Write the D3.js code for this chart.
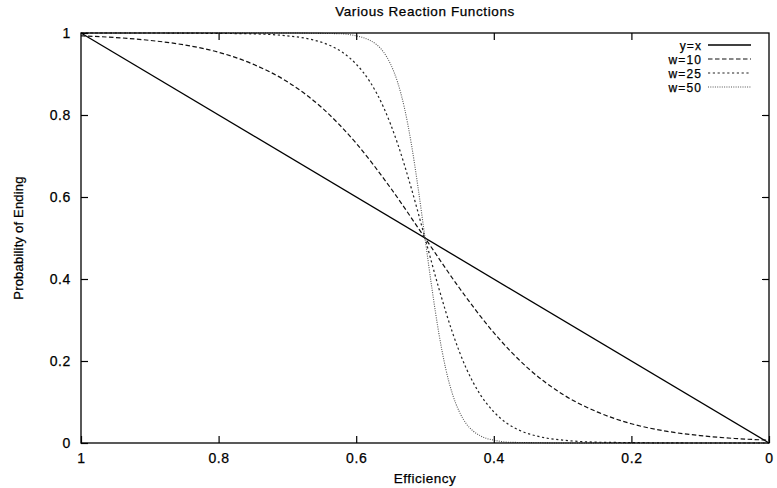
<!DOCTYPE html>
<html>
<head>
<meta charset="utf-8">
<script src="https://cdn.jsdelivr.net/npm/d3@7"></script>
<style>
  html, body { margin: 0; padding: 0; background: #fff; }
  svg text { font-family: "Liberation Sans", Arial, Helvetica, sans-serif; fill: #000; stroke: #000; stroke-width: 0.25px; }
</style>
</head>
<body>
<svg id="chart" width="777" height="488"></svg>
<script>
// ---- data ----
const titleText = "Various Reaction Functions";
const xLabel = "Efficiency";
const yLabel = "Probability of Ending";
const xTicks = [1, 0.8, 0.6, 0.4, 0.2, 0];
const yTicks = [0, 0.2, 0.4, 0.6, 0.8, 1];

const seriesNames = ["y=x", "w=10", "w=25", "w=50"];

const xLinear = [1, 0];
const yLinear = [1, 0];

const x10 = [1, 0.95, 0.9, 0.85, 0.8, 0.75, 0.7, 0.65, 0.6, 0.55, 0.5, 0.45, 0.4, 0.35, 0.3, 0.25, 0.2, 0.15, 0.1, 0.05, 0];
const y10 = [0.993, 0.989, 0.982, 0.971, 0.953, 0.924, 0.881, 0.818, 0.731, 0.622, 0.5, 0.378, 0.269, 0.182, 0.119, 0.076, 0.047, 0.029, 0.018, 0.011, 0.007];

const x25 = [1, 0.9, 0.8, 0.75, 0.7, 0.68, 0.66, 0.64, 0.62, 0.6, 0.58, 0.56, 0.54, 0.52, 0.5, 0.48, 0.46, 0.44, 0.42, 0.4, 0.38, 0.36, 0.34, 0.32, 0.3, 0.25, 0.2, 0.1, 0];
const y25 = [1, 1, 0.999, 0.998, 0.993, 0.989, 0.982, 0.971, 0.953, 0.924, 0.881, 0.818, 0.731, 0.622, 0.5, 0.378, 0.269, 0.182, 0.119, 0.076, 0.047, 0.029, 0.018, 0.011, 0.007, 0.002, 0.001, 0, 0];

const x50 = [1, 0.8, 0.7, 0.65, 0.62, 0.6, 0.59, 0.58, 0.57, 0.56, 0.55, 0.54, 0.53, 0.52, 0.51, 0.5, 0.49, 0.48, 0.47, 0.46, 0.45, 0.44, 0.43, 0.42, 0.41, 0.4, 0.38, 0.35, 0.3, 0.2, 0];
const y50 = [1, 1, 1, 0.999, 0.998, 0.993, 0.989, 0.982, 0.971, 0.953, 0.924, 0.881, 0.818, 0.731, 0.622, 0.5, 0.378, 0.269, 0.182, 0.119, 0.076, 0.047, 0.029, 0.018, 0.011, 0.007, 0.002, 0.001, 0, 0, 0];

// ---- layout ----
const svg = d3.select("#chart");
const padL = 81, padR = 769, padT = 33, padB = 443;

const x = d3.scaleLinear().domain([1, 0]).range([padL, padR]);
const y = d3.scaleLinear().domain([0, 1]).range([padB, padT]);

const series = [
  { name: seriesNames[0], xs: xLinear, ys: yLinear, dash: null, color: "#000", width: 1.3 },
  { name: seriesNames[1], xs: x10, ys: y10, dash: "4.5,2.5", color: "#111", width: 1.2 },
  { name: seriesNames[2], xs: x25, ys: y25, dash: "2.2,2.6", color: "#222", width: 1.2 },
  { name: seriesNames[3], xs: x50, ys: y50, dash: "1,1.3", color: "#555", width: 1.1 }
];

const line = d3.line()
  .x(d => x(d[0]))
  .y(d => y(d[1]))
  .curve(d3.curveMonotoneX);

// curves
const g = svg.append("g");
series.forEach(s => {
  const pts = s.xs.map((v, i) => [v, s.ys[i]]);
  g.append("path")
    .attr("d", line(pts))
    .attr("fill", "none")
    .attr("stroke", s.color)
    .attr("stroke-width", s.width)
    .attr("stroke-dasharray", s.dash);
});

// frame
svg.append("rect")
  .attr("x", padL).attr("y", padT)
  .attr("width", padR - padL).attr("height", padB - padT)
  .attr("fill", "none").attr("stroke", "#000").attr("stroke-width", 1.3);

const tickLen = 7;
const fontTick = "14px";

// bottom axis (ticks inward)
const xAxisB = d3.axisBottom(x).tickValues(xTicks).tickFormat(d3.format("")).tickSizeInner(-tickLen).tickSizeOuter(0).tickPadding(10);
const gb = svg.append("g").attr("transform", `translate(0,${padB})`).call(xAxisB);
gb.select(".domain").remove();
gb.selectAll("line").attr("stroke", "#000").attr("stroke-width", 1.2);
gb.selectAll("text").style("font-size", fontTick).style("letter-spacing", "0.6px")
  .attr("y", 20).attr("dy", null).attr("font-family", null).attr("fill", null);

// top mirror ticks
const xAxisT = d3.axisTop(x).tickValues(xTicks.slice(1, -1)).tickFormat("").tickSizeInner(-tickLen).tickSizeOuter(0);
const gt = svg.append("g").attr("transform", `translate(0,${padT})`).call(xAxisT);
gt.select(".domain").remove();
gt.selectAll("line").attr("stroke", "#000").attr("stroke-width", 1.2);

// left axis
const yAxisL = d3.axisLeft(y).tickValues(yTicks).tickFormat(d3.format("")).tickSizeInner(-tickLen).tickSizeOuter(0).tickPadding(10);
const gl = svg.append("g").attr("transform", `translate(${padL},0)`).call(yAxisL);
gl.select(".domain").remove();
gl.selectAll("line").attr("stroke", "#000").attr("stroke-width", 1.2);
gl.selectAll("text").style("font-size", fontTick).style("letter-spacing", "0.6px")
  .attr("x", -10).attr("font-family", null).attr("fill", null);

// right mirror ticks
const yAxisR = d3.axisRight(y).tickValues(yTicks.slice(1, -1)).tickFormat("").tickSizeInner(-tickLen).tickSizeOuter(0);
const gr = svg.append("g").attr("transform", `translate(${padR},0)`).call(yAxisR);
gr.select(".domain").remove();
gr.selectAll("line").attr("stroke", "#000").attr("stroke-width", 1.2);

// title and labels
svg.append("text")
  .attr("x", (padL + padR) / 2).attr("y", 16)
  .attr("text-anchor", "middle")
  .style("font-size", "13.5px").style("letter-spacing", "0.6px")
  .text(titleText);

svg.append("text")
  .attr("x", (padL + padR) / 2).attr("y", 483)
  .attr("text-anchor", "middle")
  .style("font-size", "13.5px").style("letter-spacing", "0.5px")
  .text(xLabel);

svg.append("text")
  .attr("transform", `translate(23,${(padT + padB) / 2}) rotate(-90)`)
  .attr("text-anchor", "middle")
  .style("font-size", "13px").style("letter-spacing", "0.2px")
  .text(yLabel);

// legend
const legendRows = [45, 59, 73, 87];
series.forEach((s, i) => {
  const ly = legendRows[i];
  svg.append("text")
    .attr("x", 702).attr("y", ly + 4.5)
    .attr("text-anchor", "end")
    .style("font-size", "12px").style("letter-spacing", "1.1px")
    .text(s.name);
  svg.append("line")
    .attr("x1", 708).attr("x2", 751)
    .attr("y1", ly).attr("y2", ly)
    .attr("stroke", s.color)
    .attr("stroke-width", s.width)
    .attr("stroke-dasharray", s.dash);
});
</script>
</body>
</html>
